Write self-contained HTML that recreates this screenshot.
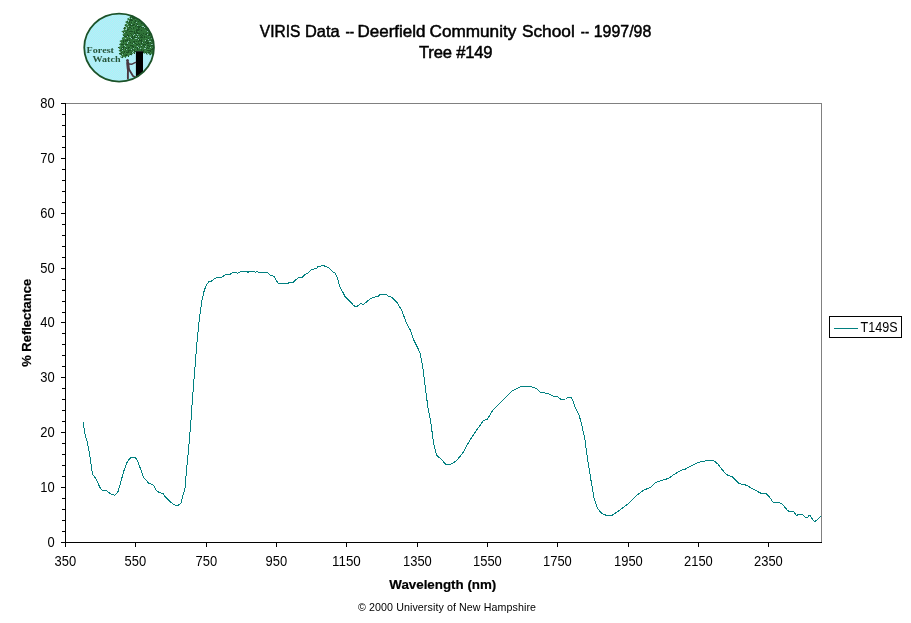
<!DOCTYPE html>
<html><head><meta charset="utf-8"><title>VIRIS Data</title>
<style>
html,body{margin:0;padding:0;background:#fff;}
body{width:911px;height:623px;overflow:hidden;font-family:"Liberation Sans",sans-serif;}
svg{display:block;will-change:transform;opacity:0.999;}
text{font-family:"Liberation Sans",sans-serif;fill:#000;}
.t13{font-size:13.9px;}
.title{font-size:16.6px;stroke:#000;stroke-width:0.5px;}
.b13{font-size:13.33px;font-weight:bold;stroke:#000;stroke-width:0.2px;}
.t10{font-size:10.67px;}
</style></head><body>
<svg width="911" height="623" viewBox="0 0 911 623">
<rect width="911" height="623" fill="#fff"/>
<!-- LOGO -->
<g id="logo">
<defs>
<clipPath id="lc"><ellipse cx="119.1" cy="47.6" rx="34.900000000000006" ry="34.1"/></clipPath>
<pattern id="dith" width="2" height="2" patternUnits="userSpaceOnUse">
<rect width="2" height="2" fill="#a0f8fa"/>
<rect width="1" height="1" fill="#c0e6f4"/>
<rect x="1" y="1" width="1" height="1" fill="#c0e6f4"/>
</pattern>
</defs>
<ellipse cx="119.1" cy="47.6" rx="35.2" ry="34.4" fill="url(#dith)"/>
<g clip-path="url(#lc)">
<path fill="#2f7238" d="M129.0,15.5 L130.6,17.1 L127.0,18.7 L128.0,20.3 L125.0,21.9 L127.0,23.5 L124.2,25.1 L125.9,26.7 L123.0,28.3 L124.4,29.9 L121.1,31.5 L124.0,33.1 L122.3,34.7 L124.4,36.3 L121.6,37.9 L122.5,39.5 L119.3,41.1 L121.3,42.7 L118.9,44.3 L120.7,45.9 L117.7,47.5 L120.4,49.1 L118.5,50.7 L120.8,52.3 L118.7,53.9 L121.6,55.5 L120.0,57.1 L122.5,58.2 L124.0,56.5 L125.5,58.0 L127.0,55.8 L128.5,57.0 L130.0,54.6 L131.5,55.6 L133.0,53.0 L134.5,53.6 L135.9,51.4 L143.0,51.4 L144.0,54.0 L145.5,52.8 L147.0,55.0 L148.5,53.6 L150.0,55.4 L151.6,54.0 L153.0,55.2 L156.0,52.0 L158.0,40.0 L156.0,20.0 L148.0,10.0 L135.0,8.0 L130.5,14.0 Z"/>
<path fill="#1c5226" d="M130,17h1v1h-1zM132,17h1v1h-1zM133,18h1v1h-1zM134,18h1v1h-1zM130,19h1v1h-1zM131,19h1v1h-1zM130,20h1v1h-1zM131,20h1v1h-1zM132,20h1v1h-1zM135,20h1v1h-1zM127,21h1v1h-1zM129,21h1v1h-1zM135,21h1v1h-1zM138,21h1v1h-1zM129,22h1v1h-1zM131,22h1v1h-1zM134,22h1v1h-1zM136,23h1v1h-1zM141,23h1v1h-1zM129,24h1v1h-1zM130,24h1v1h-1zM133,24h1v1h-1zM134,24h1v1h-1zM137,24h1v1h-1zM125,25h1v1h-1zM130,25h1v1h-1zM131,25h1v1h-1zM132,25h1v1h-1zM133,25h1v1h-1zM136,25h1v1h-1zM135,26h1v1h-1zM137,26h1v1h-1zM138,26h1v1h-1zM139,26h1v1h-1zM140,26h1v1h-1zM144,26h1v1h-1zM124,27h1v1h-1zM129,27h1v1h-1zM130,27h1v1h-1zM133,27h1v1h-1zM138,27h1v1h-1zM139,27h1v1h-1zM141,27h1v1h-1zM143,27h1v1h-1zM124,28h1v1h-1zM131,28h1v1h-1zM133,28h1v1h-1zM138,28h1v1h-1zM145,28h1v1h-1zM127,29h1v1h-1zM128,29h1v1h-1zM136,29h1v1h-1zM137,29h1v1h-1zM138,29h1v1h-1zM139,29h1v1h-1zM146,29h1v1h-1zM127,30h1v1h-1zM136,30h1v1h-1zM137,30h1v1h-1zM138,30h1v1h-1zM141,30h1v1h-1zM147,30h1v1h-1zM129,31h1v1h-1zM130,31h1v1h-1zM131,31h1v1h-1zM132,31h1v1h-1zM134,31h1v1h-1zM136,31h1v1h-1zM123,32h1v1h-1zM126,32h1v1h-1zM134,32h1v1h-1zM136,32h1v1h-1zM137,32h1v1h-1zM130,33h1v1h-1zM134,33h1v1h-1zM135,33h1v1h-1zM137,33h1v1h-1zM138,33h1v1h-1zM139,33h1v1h-1zM143,33h1v1h-1zM146,33h1v1h-1zM149,33h1v1h-1zM127,34h1v1h-1zM131,34h1v1h-1zM141,34h1v1h-1zM145,34h1v1h-1zM146,34h1v1h-1zM149,34h1v1h-1zM123,35h1v1h-1zM127,35h1v1h-1zM128,35h1v1h-1zM132,35h1v1h-1zM136,35h1v1h-1zM140,35h1v1h-1zM142,35h1v1h-1zM148,35h1v1h-1zM149,35h1v1h-1zM124,36h1v1h-1zM125,36h1v1h-1zM126,36h1v1h-1zM128,36h1v1h-1zM132,36h1v1h-1zM134,36h1v1h-1zM137,36h1v1h-1zM141,36h1v1h-1zM144,36h1v1h-1zM131,37h1v1h-1zM132,37h1v1h-1zM134,37h1v1h-1zM135,37h1v1h-1zM136,37h1v1h-1zM140,37h1v1h-1zM141,37h1v1h-1zM142,37h1v1h-1zM144,37h1v1h-1zM146,37h1v1h-1zM150,37h1v1h-1zM129,38h1v1h-1zM132,38h1v1h-1zM133,38h1v1h-1zM138,38h1v1h-1zM148,38h1v1h-1zM127,39h1v1h-1zM137,39h1v1h-1zM139,39h1v1h-1zM141,39h1v1h-1zM123,40h1v1h-1zM125,40h1v1h-1zM126,40h1v1h-1zM127,40h1v1h-1zM129,40h1v1h-1zM139,40h1v1h-1zM140,40h1v1h-1zM141,40h1v1h-1zM146,40h1v1h-1zM147,40h1v1h-1zM151,40h1v1h-1zM123,41h1v1h-1zM125,41h1v1h-1zM133,41h1v1h-1zM134,41h1v1h-1zM136,41h1v1h-1zM138,41h1v1h-1zM141,41h1v1h-1zM146,41h1v1h-1zM123,42h1v1h-1zM130,42h1v1h-1zM134,42h1v1h-1zM141,42h1v1h-1zM143,42h1v1h-1zM145,42h1v1h-1zM147,42h1v1h-1zM148,42h1v1h-1zM150,42h1v1h-1zM132,43h1v1h-1zM135,43h1v1h-1zM138,43h1v1h-1zM141,43h1v1h-1zM146,43h1v1h-1zM147,43h1v1h-1zM148,43h1v1h-1zM151,43h1v1h-1zM121,44h1v1h-1zM122,44h1v1h-1zM123,44h1v1h-1zM125,44h1v1h-1zM126,44h1v1h-1zM127,44h1v1h-1zM136,44h1v1h-1zM137,44h1v1h-1zM139,44h1v1h-1zM143,44h1v1h-1zM144,44h1v1h-1zM145,44h1v1h-1zM130,45h1v1h-1zM131,45h1v1h-1zM132,45h1v1h-1zM143,45h1v1h-1zM147,45h1v1h-1zM148,45h1v1h-1zM151,45h1v1h-1zM152,45h1v1h-1zM123,46h1v1h-1zM132,46h1v1h-1zM133,46h1v1h-1zM141,46h1v1h-1zM144,46h1v1h-1zM149,46h1v1h-1zM118,47h1v1h-1zM122,47h1v1h-1zM123,47h1v1h-1zM125,47h1v1h-1zM128,47h1v1h-1zM129,47h1v1h-1zM133,47h1v1h-1zM135,47h1v1h-1zM137,47h1v1h-1zM139,47h1v1h-1zM147,47h1v1h-1zM121,48h1v1h-1zM123,48h1v1h-1zM126,48h1v1h-1zM128,48h1v1h-1zM137,48h1v1h-1zM146,48h1v1h-1zM148,48h1v1h-1zM152,48h1v1h-1zM122,49h1v1h-1zM125,49h1v1h-1zM132,49h1v1h-1zM137,49h1v1h-1zM141,49h1v1h-1zM151,49h1v1h-1zM152,49h1v1h-1zM120,50h1v1h-1zM121,50h1v1h-1zM128,50h1v1h-1zM129,50h1v1h-1zM130,50h1v1h-1zM134,50h1v1h-1zM141,50h1v1h-1zM143,50h1v1h-1zM147,50h1v1h-1zM148,50h1v1h-1zM149,50h1v1h-1zM150,50h1v1h-1zM124,51h1v1h-1zM128,51h1v1h-1zM134,51h1v1h-1zM135,51h1v1h-1zM143,51h1v1h-1zM150,51h1v1h-1zM121,52h1v1h-1zM124,52h1v1h-1zM126,52h1v1h-1zM127,52h1v1h-1zM128,52h1v1h-1zM131,52h1v1h-1zM143,52h1v1h-1zM145,52h1v1h-1zM148,52h1v1h-1zM149,52h1v1h-1zM119,53h1v1h-1zM120,53h1v1h-1zM123,53h1v1h-1zM134,53h1v1h-1zM146,53h1v1h-1zM121,54h1v1h-1zM126,54h1v1h-1zM130,54h1v1h-1zM131,54h1v1h-1zM150,54h1v1h-1zM125,55h1v1h-1zM126,55h1v1h-1zM128,56h1v1h-1zM122,57h1v1h-1z"/>
<path fill="#3d8647" d="M130,16h1v1h-1zM128,18h1v1h-1zM135,19h1v1h-1zM133,20h1v1h-1zM138,20h1v1h-1zM132,21h1v1h-1zM132,22h1v1h-1zM127,23h1v1h-1zM125,24h1v1h-1zM135,24h1v1h-1zM126,25h1v1h-1zM127,25h1v1h-1zM138,25h1v1h-1zM139,25h1v1h-1zM133,26h1v1h-1zM134,26h1v1h-1zM141,26h1v1h-1zM125,27h1v1h-1zM131,27h1v1h-1zM132,27h1v1h-1zM140,27h1v1h-1zM132,28h1v1h-1zM137,28h1v1h-1zM124,29h1v1h-1zM135,29h1v1h-1zM129,30h1v1h-1zM132,30h1v1h-1zM133,30h1v1h-1zM145,30h1v1h-1zM135,31h1v1h-1zM138,31h1v1h-1zM130,32h1v1h-1zM123,34h1v1h-1zM130,34h1v1h-1zM132,34h1v1h-1zM138,34h1v1h-1zM145,35h1v1h-1zM129,36h1v1h-1zM130,36h1v1h-1zM135,36h1v1h-1zM149,36h1v1h-1zM124,37h1v1h-1zM128,37h1v1h-1zM129,37h1v1h-1zM123,38h1v1h-1zM124,38h1v1h-1zM126,38h1v1h-1zM134,38h1v1h-1zM137,38h1v1h-1zM145,38h1v1h-1zM146,38h1v1h-1zM140,39h1v1h-1zM133,40h1v1h-1zM143,40h1v1h-1zM122,42h1v1h-1zM124,42h1v1h-1zM125,42h1v1h-1zM135,42h1v1h-1zM136,42h1v1h-1zM139,42h1v1h-1zM151,42h1v1h-1zM137,43h1v1h-1zM143,43h1v1h-1zM145,43h1v1h-1zM124,44h1v1h-1zM131,44h1v1h-1zM132,44h1v1h-1zM134,44h1v1h-1zM135,44h1v1h-1zM146,44h1v1h-1zM125,45h1v1h-1zM146,45h1v1h-1zM122,46h1v1h-1zM126,46h1v1h-1zM136,46h1v1h-1zM146,46h1v1h-1zM120,47h1v1h-1zM130,47h1v1h-1zM134,47h1v1h-1zM140,47h1v1h-1zM146,47h1v1h-1zM152,47h1v1h-1zM119,48h1v1h-1zM120,48h1v1h-1zM124,48h1v1h-1zM129,48h1v1h-1zM135,48h1v1h-1zM138,48h1v1h-1zM141,48h1v1h-1zM151,48h1v1h-1zM124,49h1v1h-1zM136,49h1v1h-1zM147,49h1v1h-1zM148,49h1v1h-1zM149,49h1v1h-1zM124,50h1v1h-1zM135,50h1v1h-1zM145,50h1v1h-1zM120,51h1v1h-1zM121,51h1v1h-1zM147,51h1v1h-1zM125,52h1v1h-1zM133,52h1v1h-1zM144,52h1v1h-1zM150,52h1v1h-1zM122,53h1v1h-1zM124,53h1v1h-1zM126,53h1v1h-1zM128,53h1v1h-1zM129,53h1v1h-1zM132,53h1v1h-1zM151,53h1v1h-1zM128,54h1v1h-1zM123,56h1v1h-1zM125,57h1v1h-1z"/>
<path fill="#8cc8b4" d="M129,18h1v1h-1zM131,18h1v1h-1zM128,20h1v1h-1zM128,21h1v1h-1zM136,22h1v1h-1zM127,24h1v1h-1zM131,24h1v1h-1zM137,25h1v1h-1zM128,26h1v1h-1zM142,26h1v1h-1zM143,26h1v1h-1zM126,27h1v1h-1zM144,27h1v1h-1zM126,28h1v1h-1zM125,29h1v1h-1zM126,29h1v1h-1zM121,31h1v1h-1zM147,31h1v1h-1zM124,32h1v1h-1zM134,34h1v1h-1zM137,34h1v1h-1zM147,34h1v1h-1zM133,35h1v1h-1zM127,36h1v1h-1zM136,36h1v1h-1zM138,36h1v1h-1zM130,37h1v1h-1zM125,38h1v1h-1zM131,38h1v1h-1zM135,38h1v1h-1zM136,38h1v1h-1zM151,38h1v1h-1zM138,39h1v1h-1zM148,39h1v1h-1zM145,40h1v1h-1zM128,41h1v1h-1zM149,41h1v1h-1zM150,41h1v1h-1zM127,42h1v1h-1zM142,42h1v1h-1zM127,43h1v1h-1zM133,43h1v1h-1zM151,44h1v1h-1zM152,44h1v1h-1zM124,45h1v1h-1zM141,45h1v1h-1zM125,46h1v1h-1zM137,46h1v1h-1zM145,46h1v1h-1zM138,47h1v1h-1zM150,47h1v1h-1zM122,48h1v1h-1zM133,48h1v1h-1zM140,48h1v1h-1zM144,48h1v1h-1zM145,48h1v1h-1zM126,49h1v1h-1zM131,49h1v1h-1zM122,50h1v1h-1zM133,51h1v1h-1zM132,52h1v1h-1zM147,53h1v1h-1zM122,54h1v1h-1zM121,56h1v1h-1z"/>
<path d="M135.9,51.2 h7.1 v30 h-7.1 z" fill="#000"/>
<g fill="none" stroke="#4a3840" stroke-linecap="round" stroke-linejoin="round">
<ellipse cx="127.5" cy="60.6" rx="1.4" ry="1.6" fill="#4a3840" stroke="none"/>
<path d="M127.7,62.8 L128.3,69" stroke-width="3"/>
<path d="M129,64 L132,64.2 L135.6,62.4" stroke-width="1.4"/>
<path d="M128,69 L127.9,74 L127.9,78.5" stroke-width="1.9"/>
<path d="M128.8,69 L131.2,73 L133,76 L135,77" stroke-width="1.8"/>
</g>
</g>
<ellipse cx="119.1" cy="47.6" rx="34.85" ry="34.05" fill="none" stroke="#1c5228" stroke-width="1.8"/>
<text x="86.6" y="52.7" style="font-family:'Liberation Serif',serif;font-weight:bold;font-size:8.9px;fill:#26553a;stroke:none" textLength="27.4" lengthAdjust="spacingAndGlyphs">Forest</text>
<text x="92.5" y="61.7" style="font-family:'Liberation Serif',serif;font-weight:bold;font-size:8.9px;fill:#26553a;stroke:none" textLength="28" lengthAdjust="spacingAndGlyphs">Watch</text>

</g>
<!-- titles -->
<text transform="translate(259.80,37) scale(0.9349,1)" class="title">VIRIS</text>
<text transform="translate(304.91,37) scale(0.9882,1)" class="title">Data</text>
<text transform="translate(345.40,37) scale(0.8000,1)" class="title">--</text>
<text transform="translate(357.58,37) scale(1.0231,1)" class="title">Deerfield</text>
<text transform="translate(429.57,37) scale(1.0337,1)" class="title">Community</text>
<text transform="translate(521.96,37) scale(1.0408,1)" class="title">School</text>
<text transform="translate(580.80,37) scale(0.7545,1)" class="title">--</text>
<text transform="translate(593.74,37) scale(0.9603,1)" class="title">1997/98</text>
<text x="419" y="58" textLength="73.5" lengthAdjust="spacing" class="title">Tree #149</text>
<!-- plot frame -->
<g shape-rendering="crispEdges">
<rect x="65" y="103" width="757" height="1" fill="#808080"/>
<rect x="821" y="103" width="1" height="440" fill="#808080"/>
<rect x="65" y="103" width="1" height="440" fill="#000"/>
<rect x="65" y="542" width="757" height="1" fill="#000"/>
<rect x="61" y="542" width="5" height="1" fill="#000"/>
<rect x="62" y="531" width="4" height="1" fill="#000"/>
<rect x="62" y="520" width="4" height="1" fill="#000"/>
<rect x="62" y="509" width="4" height="1" fill="#000"/>
<rect x="62" y="498" width="4" height="1" fill="#000"/>
<rect x="61" y="487" width="5" height="1" fill="#000"/>
<rect x="62" y="476" width="4" height="1" fill="#000"/>
<rect x="62" y="465" width="4" height="1" fill="#000"/>
<rect x="62" y="454" width="4" height="1" fill="#000"/>
<rect x="62" y="443" width="4" height="1" fill="#000"/>
<rect x="61" y="432" width="5" height="1" fill="#000"/>
<rect x="62" y="421" width="4" height="1" fill="#000"/>
<rect x="62" y="410" width="4" height="1" fill="#000"/>
<rect x="62" y="399" width="4" height="1" fill="#000"/>
<rect x="62" y="388" width="4" height="1" fill="#000"/>
<rect x="61" y="377" width="5" height="1" fill="#000"/>
<rect x="62" y="366" width="4" height="1" fill="#000"/>
<rect x="62" y="355" width="4" height="1" fill="#000"/>
<rect x="62" y="344" width="4" height="1" fill="#000"/>
<rect x="62" y="333" width="4" height="1" fill="#000"/>
<rect x="61" y="322" width="5" height="1" fill="#000"/>
<rect x="62" y="312" width="4" height="1" fill="#000"/>
<rect x="62" y="301" width="4" height="1" fill="#000"/>
<rect x="62" y="290" width="4" height="1" fill="#000"/>
<rect x="62" y="279" width="4" height="1" fill="#000"/>
<rect x="61" y="268" width="5" height="1" fill="#000"/>
<rect x="62" y="257" width="4" height="1" fill="#000"/>
<rect x="62" y="246" width="4" height="1" fill="#000"/>
<rect x="62" y="235" width="4" height="1" fill="#000"/>
<rect x="62" y="224" width="4" height="1" fill="#000"/>
<rect x="61" y="213" width="5" height="1" fill="#000"/>
<rect x="62" y="202" width="4" height="1" fill="#000"/>
<rect x="62" y="191" width="4" height="1" fill="#000"/>
<rect x="62" y="180" width="4" height="1" fill="#000"/>
<rect x="62" y="169" width="4" height="1" fill="#000"/>
<rect x="61" y="158" width="5" height="1" fill="#000"/>
<rect x="62" y="147" width="4" height="1" fill="#000"/>
<rect x="62" y="136" width="4" height="1" fill="#000"/>
<rect x="62" y="125" width="4" height="1" fill="#000"/>
<rect x="62" y="114" width="4" height="1" fill="#000"/>
<rect x="61" y="103" width="5" height="1" fill="#000"/>
<rect x="65" y="542" width="1" height="5" fill="#000"/>
<rect x="135" y="542" width="1" height="5" fill="#000"/>
<rect x="206" y="542" width="1" height="5" fill="#000"/>
<rect x="276" y="542" width="1" height="5" fill="#000"/>
<rect x="346" y="542" width="1" height="5" fill="#000"/>
<rect x="417" y="542" width="1" height="5" fill="#000"/>
<rect x="487" y="542" width="1" height="5" fill="#000"/>
<rect x="557" y="542" width="1" height="5" fill="#000"/>
<rect x="628" y="542" width="1" height="5" fill="#000"/>
<rect x="698" y="542" width="1" height="5" fill="#000"/>
<rect x="768" y="542" width="1" height="5" fill="#000"/>
</g>
<text x="47.4" y="547.1" textLength="7.2" lengthAdjust="spacingAndGlyphs" class="t13">0</text>
<text x="40.2" y="492.1" textLength="14.4" lengthAdjust="spacingAndGlyphs" class="t13">10</text>
<text x="40.2" y="437.1" textLength="14.4" lengthAdjust="spacingAndGlyphs" class="t13">20</text>
<text x="40.2" y="382.1" textLength="14.4" lengthAdjust="spacingAndGlyphs" class="t13">30</text>
<text x="40.2" y="327.1" textLength="14.4" lengthAdjust="spacingAndGlyphs" class="t13">40</text>
<text x="40.2" y="273.1" textLength="14.4" lengthAdjust="spacingAndGlyphs" class="t13">50</text>
<text x="40.2" y="218.1" textLength="14.4" lengthAdjust="spacingAndGlyphs" class="t13">60</text>
<text x="40.2" y="163.1" textLength="14.4" lengthAdjust="spacingAndGlyphs" class="t13">70</text>
<text x="40.2" y="108.1" textLength="14.4" lengthAdjust="spacingAndGlyphs" class="t13">80</text>
<text x="54.60000000000001" y="566.1" textLength="21.6" lengthAdjust="spacingAndGlyphs" class="t13">350</text>
<text x="124.60000000000001" y="566.1" textLength="21.6" lengthAdjust="spacingAndGlyphs" class="t13">550</text>
<text x="195.6" y="566.1" textLength="21.6" lengthAdjust="spacingAndGlyphs" class="t13">750</text>
<text x="265.59999999999997" y="566.1" textLength="21.6" lengthAdjust="spacingAndGlyphs" class="t13">950</text>
<text x="332.0" y="566.1" textLength="28.8" lengthAdjust="spacingAndGlyphs" class="t13">1150</text>
<text x="403.0" y="566.1" textLength="28.8" lengthAdjust="spacingAndGlyphs" class="t13">1350</text>
<text x="473.0" y="566.1" textLength="28.8" lengthAdjust="spacingAndGlyphs" class="t13">1550</text>
<text x="543.0" y="566.1" textLength="28.8" lengthAdjust="spacingAndGlyphs" class="t13">1750</text>
<text x="614.0" y="566.1" textLength="28.8" lengthAdjust="spacingAndGlyphs" class="t13">1950</text>
<text x="684.0" y="566.1" textLength="28.8" lengthAdjust="spacingAndGlyphs" class="t13">2150</text>
<text x="754.0" y="566.1" textLength="28.8" lengthAdjust="spacingAndGlyphs" class="t13">2350</text>
<!-- curve -->
<polyline fill="none" stroke="#008080" stroke-width="1" shape-rendering="crispEdges" stroke-linejoin="round" points="83.3,422.1 84.5,432.5 87.0,440.9 90.0,456.5 92.5,474.1 96.1,478.9 99.7,487.1 102.6,490.7 106.9,491.0 111.0,494.0 114.9,495.3 117.7,492.6 120.2,484.2 123.8,471.0 127.4,461.4 131.0,457.3 135.0,457.3 137.5,460.6 141.3,471.0 143.7,477.5 148.5,483.0 153.4,485.0 156.3,490.2 159.1,492.6 163.0,493.4 165.4,497.0 170.7,502.3 175.0,505.2 178.4,505.2 181.0,503.0 182.7,496.3 185.1,487.8 186.3,472.2 188.7,448.1 191.1,419.2 191.6,410.0 194.1,378.4 196.7,345.0 199.3,319.3 201.8,301.4 204.4,289.8 207.1,283.8 208.7,281.9 211.5,281.1 216.4,277.5 221.3,277.3 225.7,274.8 230.1,274.3 233.4,272.3 236.2,272.3 237.3,273.4 238.9,272.3 242.2,271.5 246.6,271.5 248.0,272.4 249.3,271.5 254.3,271.5 255.4,272.6 257.0,271.5 258.7,272.3 267.4,272.3 269.6,274.8 274.0,276.4 275.7,279.7 278.4,283.3 288.3,283.3 288.9,282.2 293.2,282.2 295.0,280.5 298.2,277.8 302.1,277.5 304.8,274.8 307.6,273.1 312.0,269.3 316.9,268.4 317.4,266.5 321.3,266.0 322.9,265.2 325.1,266.3 328.4,267.6 332.3,271.5 335.0,272.8 337.2,277.0 338.8,283.5 340.5,288.5 342.7,291.8 344.9,296.2 350.4,301.7 353.1,304.9 354.8,306.4 357.0,306.4 360.8,303.3 363.0,304.6 365.7,302.7 370.7,298.4 373.4,297.3 377.8,296.5 380.6,294.2 386.6,294.2 388.2,296.4 390.5,296.6 392.5,298.0 397.0,302.6 401.7,310.3 406.0,321.9 410.7,330.9 413.7,339.9 417.6,347.6 420.2,353.2 423.1,369.3 425.7,391.1 428.2,409.1 430.8,421.9 433.4,442.4 436.7,455.3 441.1,459.1 445.7,464.3 450.8,464.3 456.5,460.9 462.9,452.7 469.3,441.2 477.0,429.6 483.5,420.6 487.3,419.3 492.4,410.9 498.9,403.9 505.3,397.5 511.7,391.1 520.7,386.5 531.0,386.5 536.1,388.5 540.7,392.4 547.7,393.4 554.1,396.4 556.7,396.2 561.1,399.3 565.7,399.0 568.8,397.0 571.6,397.5 574.7,406.0 579.3,415.7 582.4,427.8 584.9,439.3 587.5,458.6 591.4,483.0 594.4,499.7 597.8,508.7 601.6,513.3 606.3,515.4 611.9,515.4 617.0,512.0 623.5,507.4 629.9,502.3 636.3,495.8 644.0,489.9 650.4,487.6 655.6,482.5 662.0,480.4 668.4,478.4 674.8,474.0 681.2,470.2 685.1,469.3 691.6,465.5 699.3,462.1 704.4,461.1 708.2,460.1 714.7,461.1 718.5,464.7 722.4,469.9 726.2,474.5 732.6,477.0 739.1,483.5 746.8,485.3 754.5,489.9 760.9,493.2 766.0,493.7 769.4,497.1 773.0,502.0 778.9,502.2 782.7,504.5 787.9,510.9 791.0,511.4 794.4,512.0 795.5,514.6 796.8,515.4 798.2,514.5 802.6,514.5 805.5,517.5 807.9,517.3 808.3,515.2 810.3,515.4 811.2,517.8 814.9,521.7 821.0,516.2"/>
<!-- axis titles -->
<text x="389.3" y="589.2" textLength="107" lengthAdjust="spacingAndGlyphs" class="b13">Wavelength (nm)</text>
<text transform="translate(31.2,366.8) rotate(-90)" textLength="88" lengthAdjust="spacingAndGlyphs" class="b13">% Reflectance</text>
<text x="358" y="611" textLength="178" lengthAdjust="spacing" class="t10">© 2000 University of New Hampshire</text>
<!-- legend -->
<g shape-rendering="crispEdges">
<rect x="829.5" y="316.5" width="72" height="21" fill="#fff" stroke="#000" stroke-width="1"/>
<rect x="834" y="328" width="24" height="1" fill="#008080"/>
</g>
<text x="860.6" y="332.1" textLength="37" lengthAdjust="spacingAndGlyphs" class="t13">T149S</text>
</svg>
</body></html>
